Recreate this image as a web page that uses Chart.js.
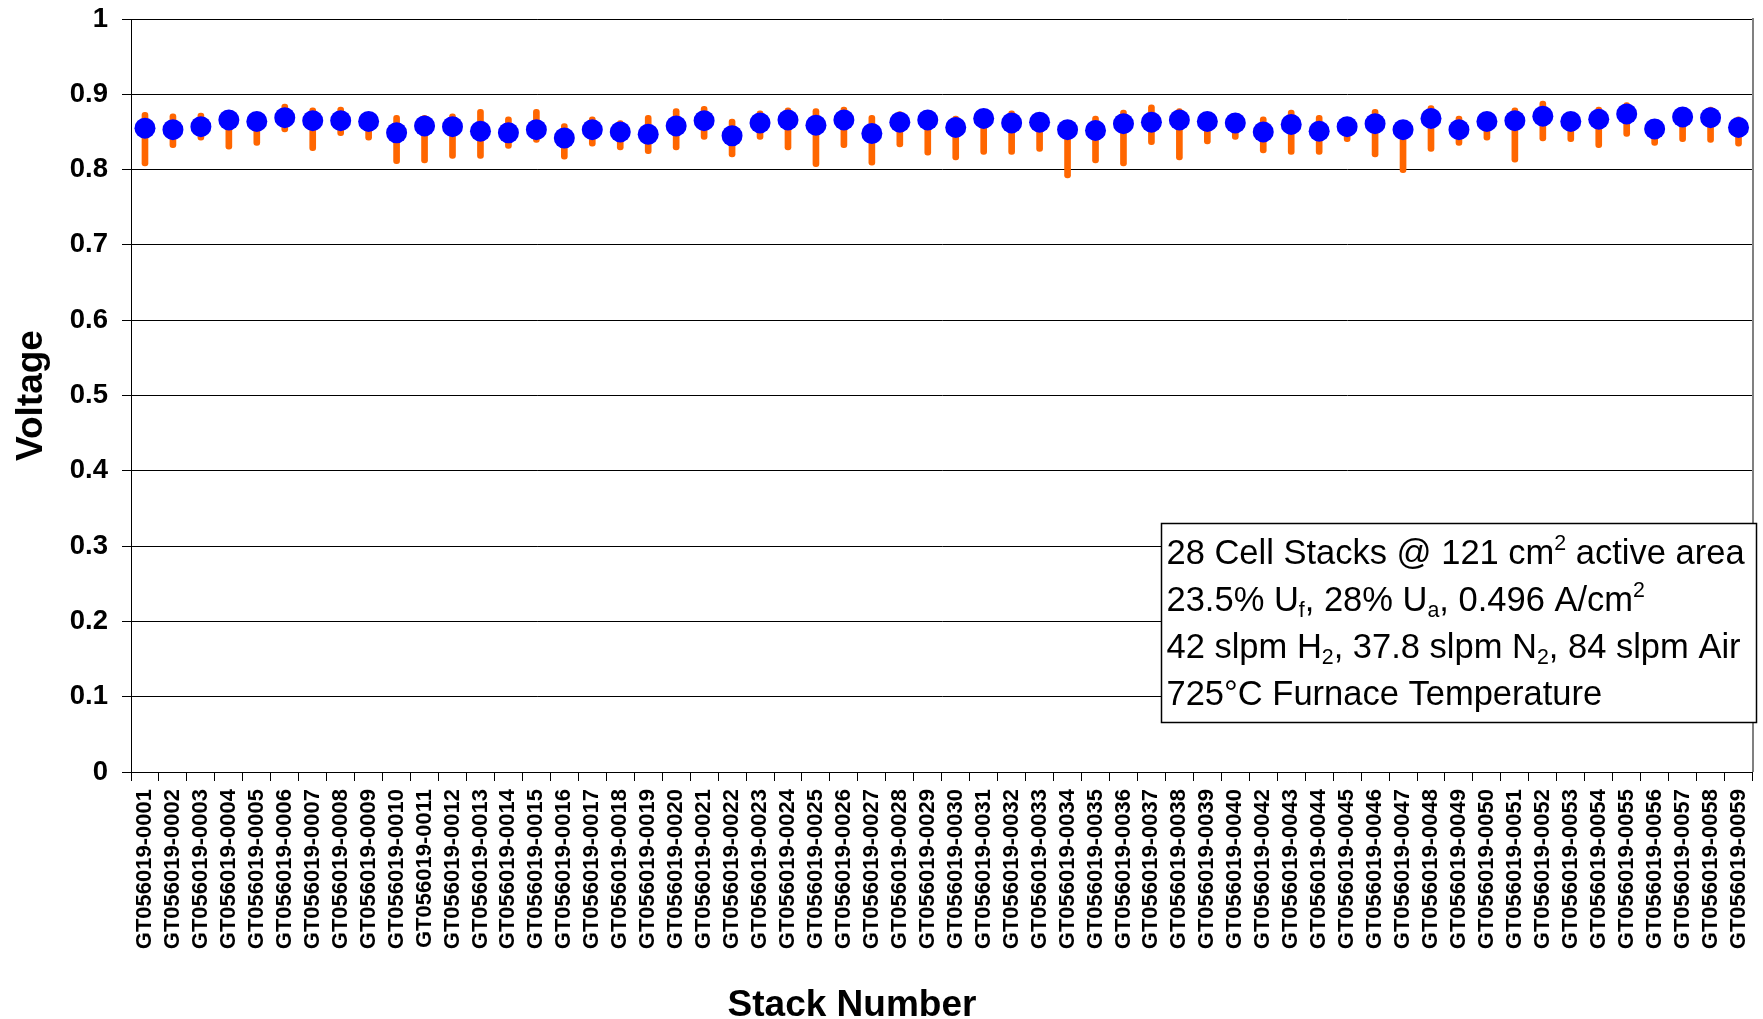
<!DOCTYPE html>
<html>
<head>
<meta charset="utf-8">
<script src="https://cdn.jsdelivr.net/npm/chart.js@4.4.1/dist/chart.umd.min.js"></script>
<style>
  html, body { margin: 0; padding: 0; background: #fff; }
  #wrap { width: 1763px; height: 1019px; }
</style>
</head>
<body>
<div id="wrap"><canvas id="c" width="1763" height="1019"></canvas></div>
<script>
const categories = [
  "GT056019-0001","GT056019-0002","GT056019-0003","GT056019-0004","GT056019-0005",
  "GT056019-0006","GT056019-0007","GT056019-0008","GT056019-0009","GT056019-0010",
  "GT056019-0011","GT056019-0012","GT056019-0013","GT056019-0014","GT056019-0015",
  "GT056019-0016","GT056019-0017","GT056019-0018","GT056019-0019","GT056019-0020",
  "GT056019-0021","GT056019-0022","GT056019-0023","GT056019-0024","GT056019-0025",
  "GT056019-0026","GT056019-0027","GT056019-0028","GT056019-0029","GT056019-0030",
  "GT056019-0031","GT056019-0032","GT056019-0033","GT056019-0034","GT056019-0035",
  "GT056019-0036","GT056019-0037","GT056019-0038","GT056019-0039","GT056019-0040",
  "GT056019-0042","GT056019-0043","GT056019-0044","GT056019-0045","GT056019-0046",
  "GT056019-0047","GT056019-0048","GT056019-0049","GT056019-0050","GT056019-0051",
  "GT056019-0052","GT056019-0053","GT056019-0054","GT056019-0055","GT056019-0056",
  "GT056019-0057","GT056019-0058","GT056019-0059"
];

const avgVoltage = [
  0.855,0.853,0.857,0.866,0.864,0.869,0.865,0.865,0.864,0.849,
  0.858,0.857,0.851,0.849,0.853,0.842,0.853,0.850,0.847,0.858,
  0.865,0.845,0.862,0.866,0.859,0.866,0.848,0.863,0.866,0.856,
  0.868,0.862,0.863,0.853,0.852,0.861,0.863,0.866,0.864,0.862,
  0.850,0.860,0.851,0.857,0.861,0.853,0.868,0.853,0.864,0.865,
  0.871,0.864,0.867,0.874,0.854,0.870,0.869,0.856
];

const minVoltage = [
  0.805,0.829,0.839,0.827,0.832,0.850,0.825,0.845,0.839,0.808,
  0.809,0.815,0.815,0.828,0.836,0.814,0.831,0.826,0.821,0.826,
  0.840,0.817,0.840,0.826,0.804,0.829,0.806,0.830,0.819,0.813,
  0.820,0.820,0.824,0.789,0.809,0.805,0.833,0.813,0.834,0.840,
  0.822,0.820,0.820,0.837,0.817,0.796,0.824,0.832,0.839,0.810,
  0.838,0.837,0.829,0.844,0.832,0.837,0.836,0.831
];

const maxVoltage = [
  0.876,0.874,0.875,0.869,0.868,0.887,0.882,0.883,0.868,0.872,
  0.872,0.874,0.880,0.870,0.880,0.861,0.870,0.865,0.872,0.881,
  0.884,0.867,0.878,0.882,0.881,0.883,0.872,0.877,0.869,0.871,
  0.871,0.878,0.867,0.857,0.871,0.879,0.886,0.881,0.867,0.866,
  0.870,0.879,0.872,0.862,0.880,0.857,0.885,0.871,0.869,0.882,
  0.891,0.868,0.883,0.889,0.858,0.874,0.883,0.870
];

const yTickValues = [0, 0.1, 0.2, 0.3, 0.4, 0.5, 0.6, 0.7, 0.8, 0.9, 1];

const xTitle = "Stack Number";
const yTitle = "Voltage";

const noteLines = [
  [{t:"28 Cell Stacks @ 121 cm"},{t:"2",sup:true},{t:" active area"}],
  [{t:"23.5% U"},{t:"f",sub:true},{t:", 28% U"},{t:"a",sub:true},{t:", 0.496 A/cm"},{t:"2",sup:true}],
  [{t:"42 slpm H"},{t:"2",sub:true},{t:", 37.8 slpm N"},{t:"2",sub:true},{t:", 84 slpm Air"}],
  [{t:"725°C Furnace Temperature"}]
];

const FONT = "'Liberation Sans', Arial, Helvetica, sans-serif";

const overlayPlugin = {
  id: 'overlay',
  afterDraw(chart) {
    const ctx = chart.ctx;
    const ca = chart.chartArea;
    ctx.save();
    // plot area right border
    ctx.strokeStyle = '#808080';
    ctx.lineWidth = 2;
    ctx.beginPath();
    ctx.moveTo(ca.right + 0.5, ca.top - 1);
    ctx.lineTo(ca.right + 0.5, ca.bottom);
    ctx.stroke();

    // note box
    const bx = 1161.5, by = 523.5, bw = 595, bh = 199;
    ctx.fillStyle = '#fff';
    ctx.fillRect(bx, by, bw, bh);
    ctx.strokeStyle = '#000';
    ctx.lineWidth = 1.5;
    ctx.strokeRect(bx, by, bw, bh);
    const size = 34.5;
    ctx.fillStyle = '#000';
    ctx.textBaseline = 'alphabetic';
    ctx.textAlign = 'left';
    const baselines = [564, 611, 658, 705];
    noteLines.forEach((segs, li) => {
      let x = bx + 5;
      const y = baselines[li];
      segs.forEach(s => {
        let fs = size, dy = 0;
        if (s.sup) { fs = size * 0.62; dy = -size * 0.4; }
        if (s.sub) { fs = size * 0.62; dy = size * 0.18; }
        ctx.font = fs + 'px ' + FONT;
        ctx.fillText(s.t, x, y + dy);
        x += ctx.measureText(s.t).width;
      });
    });

    // axis titles
    ctx.font = 'bold 37px ' + FONT;
    ctx.textAlign = 'center';
    ctx.fillText(xTitle, 852, 1016);
    ctx.translate(42, (ca.top + ca.bottom) / 2);
    ctx.rotate(-Math.PI / 2);
    ctx.fillText(yTitle, 0, 0);
    ctx.restore();
  }
};

const ctx = document.getElementById('c').getContext('2d');
new Chart(ctx, {
  type: 'bar',
  data: {
    labels: categories,
    datasets: [
      {
        type: 'line',
        label: 'Average',
        data: avgVoltage,
        showLine: false,
        pointRadius: 10.5,
        pointHoverRadius: 10.5,
        pointBackgroundColor: '#0000FF',
        pointBorderColor: '#0000FF',
        pointBorderWidth: 0,
        order: 0
      },
      {
        type: 'bar',
        label: 'Range',
        data: minVoltage.map((v, i) => [v, maxVoltage[i]]),
        backgroundColor: '#FF6600',
        barThickness: 6,
        borderRadius: 3,
        borderSkipped: false,
        order: 1
      }
    ]
  },
  options: {
    responsive: false,
    animation: false,
    devicePixelRatio: 1,
    layout: { padding: { top: 19, right: 4, left: 0, bottom: 0 } },
    plugins: { legend: { display: false }, tooltip: { enabled: false }, title: { display: false } },
    scales: {
      x: {
        offset: true,
        grid: { offset: true, drawOnChartArea: false, color: '#000', tickLength: 9, lineWidth: 1 },
        border: { color: '#000', width: 1 },
        ticks: {
          autoSkip: false, minRotation: 90, maxRotation: 90, padding: 8, color: '#000',
          font: { family: FONT, size: 22, weight: 'bold' }
        },
        afterFit: (s) => { s.height = 1019 - 772; s.paddingLeft = 0; s.paddingRight = 0; }
      },
      y: {
        min: 0, max: 1,
        afterBuildTicks: (s) => { s.ticks = yTickValues.map(v => ({ value: v })); },
        ticks: {
          padding: 14, color: '#000',
          font: { family: FONT, size: 27.5, weight: 'bold' },
          callback: (v) => String(Number(v.toFixed(1)))
        },
        grid: { color: '#000', tickLength: 9, lineWidth: 1 },
        border: { color: '#000', width: 1 },
        afterFit: (s) => { s.width = 131; s.paddingTop = 0; s.paddingBottom = 0; }
      }
    }
  },
  plugins: [overlayPlugin]
});
</script>
</body>
</html>
